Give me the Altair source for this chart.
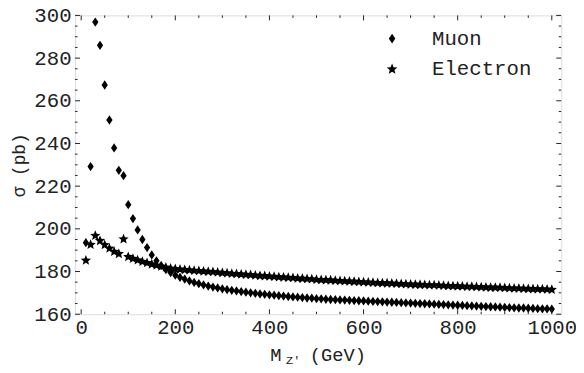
import altair as alt
import pandas as pd

mass = list(range(10, 1001, 10))

muon = [
    193.5, 229.2, 296.9, 286.0, 267.4, 251.0, 237.9, 227.4, 224.9, 211.3,
    204.8, 199.5, 195.0, 191.2, 187.8, 185.0, 182.8, 180.9, 179.5, 178.3,
    177.3, 176.4, 175.6, 174.9, 174.3, 173.7, 173.2, 172.7, 172.3, 171.9,
    171.5, 171.2, 170.9, 170.6, 170.3, 170.0, 169.8, 169.5, 169.3, 169.1,
    168.9, 168.7, 168.5, 168.3, 168.1, 168.0, 167.8, 167.6, 167.5, 167.3,
    167.2, 167.0, 166.9, 166.8, 166.7, 166.6, 166.5, 166.4, 166.3, 166.2,
    166.1, 166.0, 165.9, 165.8, 165.7, 165.6, 165.5, 165.4, 165.3, 165.2,
    165.1, 165.0, 164.9, 164.8, 164.7, 164.6, 164.5, 164.4, 164.3, 164.2,
    164.1, 164.0, 163.9, 163.8, 163.7, 163.6, 163.5, 163.4, 163.3, 163.2,
    163.1, 163.0, 162.9, 162.9, 162.8, 162.7, 162.6, 162.5, 162.5, 162.4,
]

electron = [
    185.2, 192.6, 196.8, 194.4, 192.5, 190.8, 189.3, 188.3, 195.2, 186.9,
    186.0, 185.3, 184.6, 184.0, 183.4, 182.9, 182.4, 181.9, 181.5, 181.2,
    181.0, 180.8, 180.6, 180.4, 180.3, 180.1, 179.9, 179.8, 179.6, 179.4,
    179.2, 179.0, 178.9, 178.7, 178.5, 178.4, 178.2, 178.0, 177.9, 177.7,
    177.6, 177.4, 177.3, 177.1, 177.0, 176.8, 176.7, 176.5, 176.4, 176.2,
    176.1, 176.0, 175.9, 175.7, 175.6, 175.5, 175.4, 175.3, 175.1, 175.0,
    174.9, 174.8, 174.7, 174.6, 174.5, 174.4, 174.3, 174.2, 174.1, 174.0,
    173.9, 173.8, 173.7, 173.6, 173.6, 173.5, 173.4, 173.3, 173.2, 173.1,
    173.0, 172.9, 172.9, 172.8, 172.7, 172.6, 172.5, 172.5, 172.4, 172.3,
    172.2, 172.1, 172.1, 172.0, 171.9, 171.8, 171.7, 171.7, 171.6, 171.5,
]

series_names = ["Muon", "Electron"]
x_major = [0, 200, 400, 600, 800, 1000]
x_minor = [v for v in range(0, 1001, 50) if v % 200 != 0]
y_major = [160, 180, 200, 220, 240, 260, 280, 300]
y_minor = [v for v in range(160, 301, 5) if v % 20 != 0]

W, H = 493, 303
FONT = "Liberation Mono"

df = pd.DataFrame({
    "mass": mass * 2,
    "sigma": muon + electron,
    "series": ["Muon"] * len(mass) + ["Electron"] * len(mass),
})

diamond_path = "M0,-0.86L0.58,0L0,0.86L-0.58,0Z"
star_path = ("M0,-1L0.26,-0.36L0.951,-0.309L0.42,0.14L0.588,0.809L0,0.44"
             "L-0.588,0.809L-0.42,0.14L-0.951,-0.309L-0.26,-0.36Z")

xscale = alt.Scale(domain=[-13, 1020], nice=False, zero=False)
yscale = alt.Scale(domain=[160, 300], nice=False, zero=False)

x_axis = alt.Axis(values=x_major, title=None, ticks=False, domain=False,
                  grid=False, format="d", labelFont=FONT, labelFontSize=21,
                  labelColor="#222", labelPadding=3, labelFlush=False)
y_axis = alt.Axis(values=y_major, title="σ (pb)", ticks=False, domain=False,
                  grid=False, format="d", labelFont=FONT, labelFontSize=21,
                  labelColor="#222", labelPadding=4,
                  titleFont=FONT, titleFontSize=18, titleFontWeight="normal",
                  titleColor="#222", titlePadding=5)

points = alt.Chart(df).mark_point(filled=True, opacity=1, strokeWidth=0, size=120).encode(
    x=alt.X("mass:Q", scale=xscale, axis=x_axis, title=None),
    y=alt.Y("sigma:Q", scale=yscale, axis=y_axis, title="σ (pb)"),
    shape=alt.Shape("series:N",
                    scale=alt.Scale(domain=series_names, range=[diamond_path, star_path]),
                    legend=alt.Legend(title=None, orient="none", legendX=311, legendY=13,
                                      labelFont=FONT, labelFontSize=21, labelColor="#222",
                                      symbolSize=130, symbolFillColor="black",
                                      symbolStrokeWidth=0, labelOffset=30, rowPadding=9)),
    color=alt.value("black"),
)

def tick_layer(vals, field, side, length):
    d = pd.DataFrame({field: vals})
    if field == "x":
        enc = {"x": alt.X("x:Q", scale=xscale, axis=x_axis, title=None)}
        if side == "bottom":
            enc.update(y=alt.value(H), y2=alt.value(H - length))
        else:
            enc.update(y=alt.value(0), y2=alt.value(length))
    else:
        enc = {"y": alt.Y("y:Q", scale=yscale, axis=y_axis, title="σ (pb)")}
        if side == "left":
            enc.update(x=alt.value(0), x2=alt.value(length))
        else:
            enc.update(x=alt.value(W), x2=alt.value(W - length))
    return alt.Chart(d).mark_rule(color="#222", strokeWidth=1).encode(**enc)

ticks = []
for side in ["bottom", "top"]:
    ticks.append(tick_layer(x_major, "x", side, 5))
    ticks.append(tick_layer(x_minor, "x", side, 2.5))
for side in ["left", "right"]:
    ticks.append(tick_layer(y_major, "y", side, 5))
    ticks.append(tick_layer(y_minor, "y", side, 2.5))

title_df = pd.DataFrame({"t": [0]})
t_m = alt.Chart(title_df).mark_text(text="M", font=FONT, fontSize=19, align="left",
                                    baseline="alphabetic", color="#222").encode(
    x=alt.value(198), y=alt.value(350))
t_z = alt.Chart(title_df).mark_text(text="Z'", font=FONT, fontSize=12, align="left",
                                    baseline="alphabetic", color="#222").encode(
    x=alt.value(214), y=alt.value(353))
t_g = alt.Chart(title_df).mark_text(text="(GeV)", font=FONT, fontSize=19, align="left",
                                    baseline="alphabetic", color="#222").encode(
    x=alt.value(238), y=alt.value(350))

chart = alt.layer(points, *ticks, t_m, t_z, t_g).properties(
    width=W, height=H,
    autosize=alt.AutoSizeParams(type="none"),
    padding={"left": 68, "top": 5, "right": 15, "bottom": 50},
).configure_view(stroke="#222", strokeWidth=1).configure(background="white")

chart.save("out.html", embed_options={"renderer": "svg", "actions": False})
